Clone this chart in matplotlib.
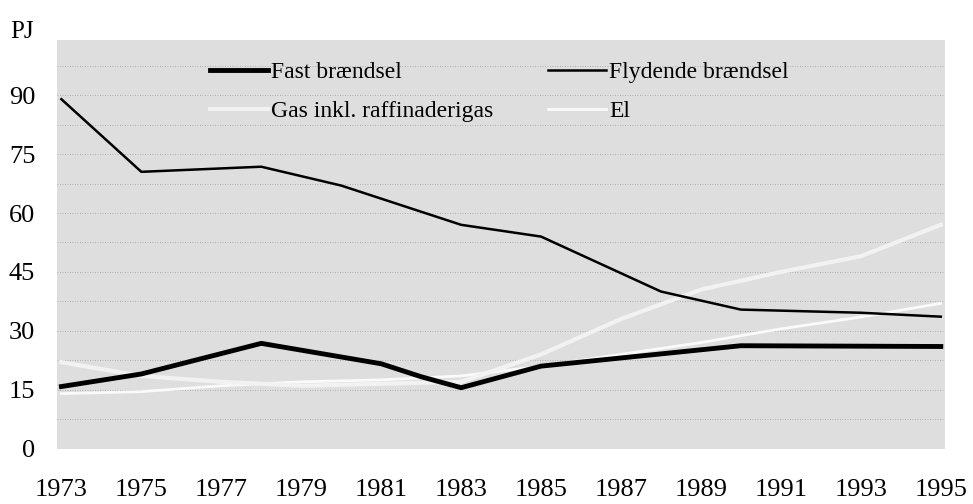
import matplotlib
matplotlib.use("Agg")
import matplotlib.pyplot as plt

years_fast = [1973, 1975, 1978, 1981, 1982, 1983, 1985, 1990, 1995]
fast = [15.8, 19.0, 26.8, 21.6, 18.3, 15.5, 21.0, 26.2, 26.0]

years_flyd = [1973, 1975, 1978, 1980, 1983, 1985, 1988, 1990, 1993, 1995]
flyd = [89.0, 70.5, 71.8, 67.0, 57.0, 54.0, 40.0, 35.4, 34.6, 33.6]

years_gas = [1973, 1975, 1977, 1979, 1981, 1983, 1985, 1987, 1989, 1991, 1993, 1995]
gas = [22.0, 18.5, 17.0, 16.0, 16.5, 17.0, 24.0, 33.0, 40.5, 45.0, 49.0, 57.0]

years_el = [1973, 1975, 1977, 1979, 1981, 1983, 1985, 1987, 1989, 1991, 1993, 1995]
el = [14.0, 14.5, 16.0, 17.0, 17.5, 18.5, 21.0, 24.0, 27.0, 30.5, 33.5, 37.0]

xticks = list(range(1973, 1996, 2))
yticks = [0, 15, 30, 45, 60, 75, 90]

plt.rcParams['font.family'] = ['Liberation Serif', 'DejaVu Serif']

fig = plt.figure(figsize=(9.73, 5.04), dpi=100)
ax = fig.add_axes([0.059, 0.11, 0.912, 0.81])
ax.set_facecolor('#dedede')

for yv in [7.5 * i for i in range(1, 14)]:
    ax.axhline(yv, color='#a0a0a0', lw=0.6, ls=(0, (1, 2)), zorder=1)

ax.plot(years_el, el, color='#fafafa', lw=2.0, zorder=2, label='El')
ax.plot(years_gas, gas, color='#f2f2f2', lw=3.0, zorder=2, label='Gas inkl. raffinaderigas')
ax.plot(years_flyd, flyd, color='black', lw=1.8, zorder=3, label='Flydende brændsel')
ax.plot(years_fast, fast, color='black', lw=3.5, zorder=4, label='Fast brændsel')

h, l = ax.get_legend_handles_labels()
order = [3, 1, 2, 0]
leg = ax.legend([h[i] for i in order], [l[i] for i in order], ncol=2,
                frameon=False, fontsize=17, loc='upper left',
                bbox_to_anchor=(0.148, 1.0), handlelength=2.45,
                handletextpad=0.15, columnspacing=2.3, labelspacing=0.75)

ax.set_xlim(1972.9, 1995.1)
ax.set_ylim(0, 104)
ax.set_xticks(xticks)
ax.set_yticks(yticks)
ax.tick_params(axis='both', length=0, labelsize=19)
ax.tick_params(axis='x', pad=22)
ax.tick_params(axis='y', pad=16)
for s in ax.spines.values():
    s.set_visible(False)

fig.text(0.01, 0.925, 'PJ', fontsize=18)

fig.savefig('out.png', dpi=100)
